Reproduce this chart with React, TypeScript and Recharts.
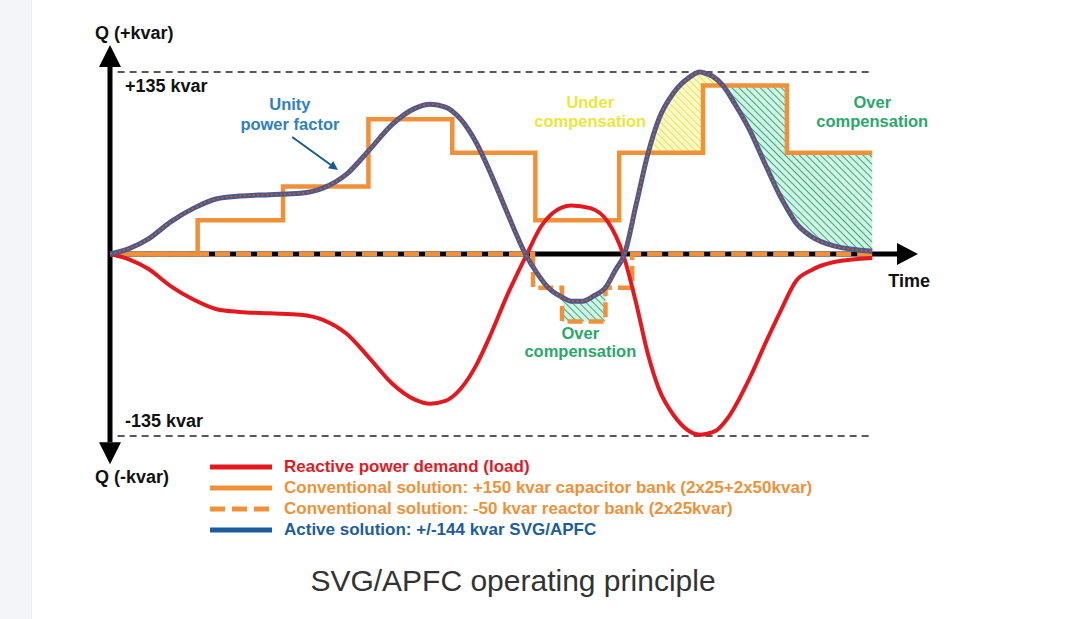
import {
    ComposedChart,
    Line,
    Area,
    XAxis,
    YAxis,
    ReferenceLine,
    ReferenceDot,
    Legend,
} from "recharts"

const FONT = '"Liberation Sans", Arial, sans-serif'

const RED = "#e3191f"
const ORANGE = "#f0913a"
const SLATE = "#4c5b86"
const LEGEND_BLUE = "#1d5d9b"
const NOTE_BLUE = "#2f80c0"
const NOTE_YELLOW = "#ece63a"
const NOTE_GREEN = "#2aa76a"

// reactive power demand of the load (kvar)
const loadTime = [0, 2.5, 5, 8, 11, 14, 17, 21, 25, 28, 31, 34, 37, 40, 42, 44, 46, 48, 50, 52, 54.7, 56.5, 58, 60.5, 63, 65.3, 67.3, 69, 70.6, 72, 74, 77.4, 79.5, 81, 84, 86, 88, 90, 92, 95, 100]
const loadKvar = [0, -4, -11, -24, -34, -41, -43, -44, -45, -49, -59, -77, -96, -108, -111, -109, -100, -83, -59, -32, 0, 20, 30, 36, 34, 24, 0, -36, -75, -100, -120, -134, -131, -122, -91, -66, -42, -20, -12, -6, -3]

// active solution SVG/APFC output (kvar)
const activeTime = [0, 2.5, 5, 8, 11, 14, 17, 21, 25, 28, 31, 34, 37, 40, 42, 44, 46, 48, 50, 52, 54.5, 56, 57.5, 59.3, 60.5, 62, 63.5, 65, 66.3, 67.5, 69, 70.6, 72, 74, 76, 77.4, 77.8, 79, 80.4, 82, 84, 86, 88, 88.8, 90, 92, 95, 100]
const activeKvar = [0, 4, 11, 24, 34, 41, 43, 44, 45, 49, 59, 77, 96, 108, 111, 109, 100, 83, 59, 32, 0, -14, -25, -32, -35, -35, -31, -25, -12, 0, 36, 75, 100, 120, 131, 135, 134.5, 132, 125, 111, 91, 66, 42, 34, 23, 13, 6, 2]

// capacitor bank steps (2x25 + 2x50 kvar)
const capacitorTime = [0, 11.5, 22.7, 33.9, 44.9, 55.8, 66.8, 77.8, 88.8, 100]
const capacitorKvar = [0, 25, 50, 100, 75, 25, 75, 125, 75, 75]

// reactor bank steps (2x25 kvar)
const reactorTime = [0, 55.5, 59.3, 65, 68.5, 100]
const reactorKvar = [0, -25, -50, -25, 0, 0]

// hatched zones between the active curve and the step level
const zoneFrom = [70.6, 77.8, 80.4, 88.8, 59.3]
const zoneTo = [77.8, 80.4, 88.8, 100, 65]
const zoneLevel = [75, 125, 125, 75, -50]
const zoneHatch = ["hatchYellow", "hatchYellow", "hatchGreen", "hatchGreen", "hatchGreen"]

const legendLabels = [
    "Reactive power demand (load)",
    "Conventional solution: +150 kvar capacitor bank (2x25+2x50kvar)",
    "Conventional solution: -50 kvar reactor bank (2x25kvar)",
    "Active solution: +/-144 kvar SVG/APFC",
]
const legendColors = [RED, ORANGE, ORANGE, LEGEND_BLUE]
const legendDashed = [false, false, true, false]

const loadRows = loadTime.map((t, i) => ({ t, q: loadKvar[i] }))
const activeRows = activeTime.map((t, i) => ({ t, q: activeKvar[i] }))
const capacitorRows = capacitorTime.map((t, i) => ({ t, q: capacitorKvar[i] }))
const reactorRows = reactorTime.map((t, i) => ({ t, q: reactorKvar[i] }))

const zoneRows = zoneFrom.map((from, k) =>
    activeRows
        .filter((r) => r.t >= from && r.t <= zoneTo[k])
        .map((r) => ({
            t: r.t,
            band: [Math.min(r.q, zoneLevel[k]), Math.max(r.q, zoneLevel[k])],
        }))
)

const notes = [
    { t: 23.6, q: 106.8, text: "Unity", color: NOTE_BLUE },
    { t: 23.6, q: 92, text: "power factor", color: NOTE_BLUE },
    { t: 63, q: 108.3, text: "Under", color: NOTE_YELLOW },
    { t: 63, q: 94.2, text: "compensation", color: NOTE_YELLOW },
    { t: 100, q: 108.3, text: "Over", color: NOTE_GREEN },
    { t: 100, q: 94.2, text: "compensation", color: NOTE_GREEN },
    { t: 61.7, q: -63, text: "Over", color: NOTE_GREEN },
    { t: 61.7, q: -76.4, text: "compensation", color: NOTE_GREEN },
]

const axisLabels = [
    { t: 0, q: 155, dx: -15, dy: -6, text: "Q (+kvar)" },
    { t: 0, q: 135, dx: 15, dy: 20, text: "+135 kvar" },
    { t: 0, q: -135, dx: 15, dy: -9, text: "-135 kvar" },
    { t: 0, q: -156, dx: -15, dy: 19, text: "Q (-kvar)" },
    { t: 100, q: 0, dx: 16, dy: 33, text: "Time" },
]

const arrowShape =
    (color: string, width: number, headLen: number, headHalf: number) => (p: any) => {
        const { x1, y1, x2, y2 } = p
        const dx = x2 - x1
        const dy = y2 - y1
        const len = Math.hypot(dx, dy) || 1
        const ux = dx / len
        const uy = dy / len
        const bx = x2 - ux * headLen
        const by = y2 - uy * headLen
        const nx = -uy * headHalf
        const ny = ux * headHalf
        return (
            <g>
                <line x1={x1} y1={y1} x2={bx} y2={by} stroke={color} strokeWidth={width} />
                <polygon
                    points={`${x2},${y2} ${bx + nx},${by + ny} ${bx - nx},${by - ny}`}
                    fill={color}
                />
            </g>
        )
    }

const textShape =
    (text: string, color: string, size: number, anchor: string, dx = 0, dy = 0) =>
    (p: any) => (
        <text
            x={p.cx + dx}
            y={p.cy + dy}
            textAnchor={anchor}
            fill={color}
            fontSize={size}
            fontWeight={700}
            fontFamily={FONT}
        >
            {text}
        </text>
    )

const LegendBox = () => (
    <div style={{ fontFamily: FONT, fontWeight: 700, fontSize: 17 }}>
        {legendLabels.map((label, i) => (
            <div key={label} style={{ display: "flex", alignItems: "center", height: 21 }}>
                <svg width={62} height={8}>
                    <line
                        x1={0}
                        y1={4}
                        x2={62}
                        y2={4}
                        stroke={legendColors[i]}
                        strokeWidth={5}
                        strokeDasharray={legendDashed[i] ? "15 7" : undefined}
                    />
                </svg>
                <span style={{ color: legendColors[i], marginLeft: 12, whiteSpace: "nowrap" }}>
                    {label}
                </span>
            </div>
        ))}
    </div>
)

const App = () => {
    return (
        <div
            style={{
                position: "absolute",
                left: 0,
                top: 0,
                width: 1080,
                height: 619,
                background: "#ffffff",
                overflow: "hidden",
            }}
        >
            <div
                style={{
                    position: "absolute",
                    left: 0,
                    top: 0,
                    width: 31,
                    height: 619,
                    background: "#f3f5f9",
                    borderRight: "1px solid #e8ecf2",
                }}
            />
            <ComposedChart
                width={1080}
                height={619}
                margin={{ top: 45, right: 162, bottom: 152, left: 110 }}
                style={{ position: "absolute", left: 0, top: 0 }}
            >
                <defs>
                    <pattern
                        id="hatchGreen"
                        width={5}
                        height={5}
                        patternUnits="userSpaceOnUse"
                        patternTransform="rotate(-45)"
                    >
                        <rect width={5} height={5} fill="#d3f3e6" />
                        <line x1={0} y1={0} x2={0} y2={5} stroke="#2fae7a" strokeWidth={2} />
                    </pattern>
                    <pattern
                        id="hatchYellow"
                        width={5}
                        height={5}
                        patternUnits="userSpaceOnUse"
                        patternTransform="rotate(-45)"
                    >
                        <rect width={5} height={5} fill="#fbf9c9" />
                        <line x1={0} y1={0} x2={0} y2={5} stroke="#e9e34c" strokeWidth={2} />
                    </pattern>
                </defs>
                <XAxis type="number" dataKey="t" domain={[0, 106]} hide allowDataOverflow />
                <YAxis type="number" domain={[-158, 155]} hide allowDataOverflow />

                <ReferenceLine
                    segment={[{ x: 1, y: 135 }, { x: 100, y: 135 }]}
                    stroke="#222"
                    strokeWidth={1.6}
                    strokeDasharray="7 5"
                    ifOverflow="visible"
                />
                <ReferenceLine
                    segment={[{ x: 1, y: -135 }, { x: 100, y: -135 }]}
                    stroke="#222"
                    strokeWidth={1.6}
                    strokeDasharray="7 5"
                    ifOverflow="visible"
                />
                <ReferenceLine
                    segment={[{ x: 0, y: 0 }, { x: 0, y: 155 }]}
                    shape={arrowShape("#000", 5, 22, 11)}
                    ifOverflow="visible"
                />
                <ReferenceLine
                    segment={[{ x: 0, y: 0 }, { x: 0, y: -156 }]}
                    shape={arrowShape("#000", 5, 22, 11)}
                    ifOverflow="visible"
                />
                <ReferenceLine
                    segment={[{ x: 0, y: 0 }, { x: 106, y: 0 }]}
                    shape={arrowShape("#000", 5, 21, 11)}
                    ifOverflow="visible"
                />
                <ReferenceLine
                    segment={[{ x: 23.9, y: 86.8 }, { x: 29.9, y: 62.3 }]}
                    shape={arrowShape("#1a5a8c", 2, 9, 4.5)}
                    ifOverflow="visible"
                />

                {zoneRows.map((rows, k) => (
                    <Area
                        key={`zone${k}`}
                        data={rows}
                        dataKey="band"
                        type="monotone"
                        stroke="none"
                        fill={`url(#${zoneHatch[k]})`}
                        fillOpacity={1}
                        isAnimationActive={false}
                        legendType="none"
                    />
                ))}

                <Line
                    data={reactorRows}
                    dataKey="q"
                    type="stepAfter"
                    stroke={ORANGE}
                    strokeWidth={4.5}
                    strokeDasharray="15 6"
                    dot={false}
                    activeDot={false}
                    isAnimationActive={false}
                />
                <Line
                    data={capacitorRows}
                    dataKey="q"
                    type="stepAfter"
                    stroke={ORANGE}
                    strokeWidth={4.5}
                    dot={false}
                    activeDot={false}
                    isAnimationActive={false}
                />
                <Line
                    data={loadRows}
                    dataKey="q"
                    type="monotone"
                    stroke={RED}
                    strokeWidth={4}
                    dot={false}
                    activeDot={false}
                    isAnimationActive={false}
                />
                <Line
                    data={activeRows}
                    dataKey="q"
                    type="monotone"
                    stroke={SLATE}
                    strokeWidth={5}
                    dot={false}
                    activeDot={false}
                    isAnimationActive={false}
                />
                <Line
                    data={activeRows}
                    dataKey="q"
                    type="monotone"
                    stroke="#d0524a"
                    strokeWidth={1.6}
                    strokeDasharray="2 2.5"
                    dot={false}
                    activeDot={false}
                    isAnimationActive={false}
                />

                {notes.map((n, i) => (
                    <ReferenceDot
                        key={`note${i}`}
                        x={n.t}
                        y={n.q}
                        r={0}
                        ifOverflow="visible"
                        shape={textShape(n.text, n.color, 16.5, "middle")}
                    />
                ))}
                {axisLabels.map((a, i) => (
                    <ReferenceDot
                        key={`axis${i}`}
                        x={a.t}
                        y={a.q}
                        r={0}
                        ifOverflow="visible"
                        shape={textShape(a.text, "#111", 18, "start", a.dx, a.dy)}
                    />
                ))}

                <Legend
                    layout="horizontal"
                    verticalAlign="middle"
                    align="center"
                    content={() => <LegendBox />}
                    wrapperStyle={{ left: 210, top: 456, width: 720, height: 90 }}
                />
            </ComposedChart>
            <div
                style={{
                    position: "absolute",
                    left: 0,
                    top: 566,
                    width: 1026,
                    textAlign: "center",
                    fontFamily: FONT,
                    fontSize: 30,
                    lineHeight: "30px",
                    color: "#333",
                }}
            >
                SVG/APFC operating principle
            </div>
        </div>
    )
}

export default App
